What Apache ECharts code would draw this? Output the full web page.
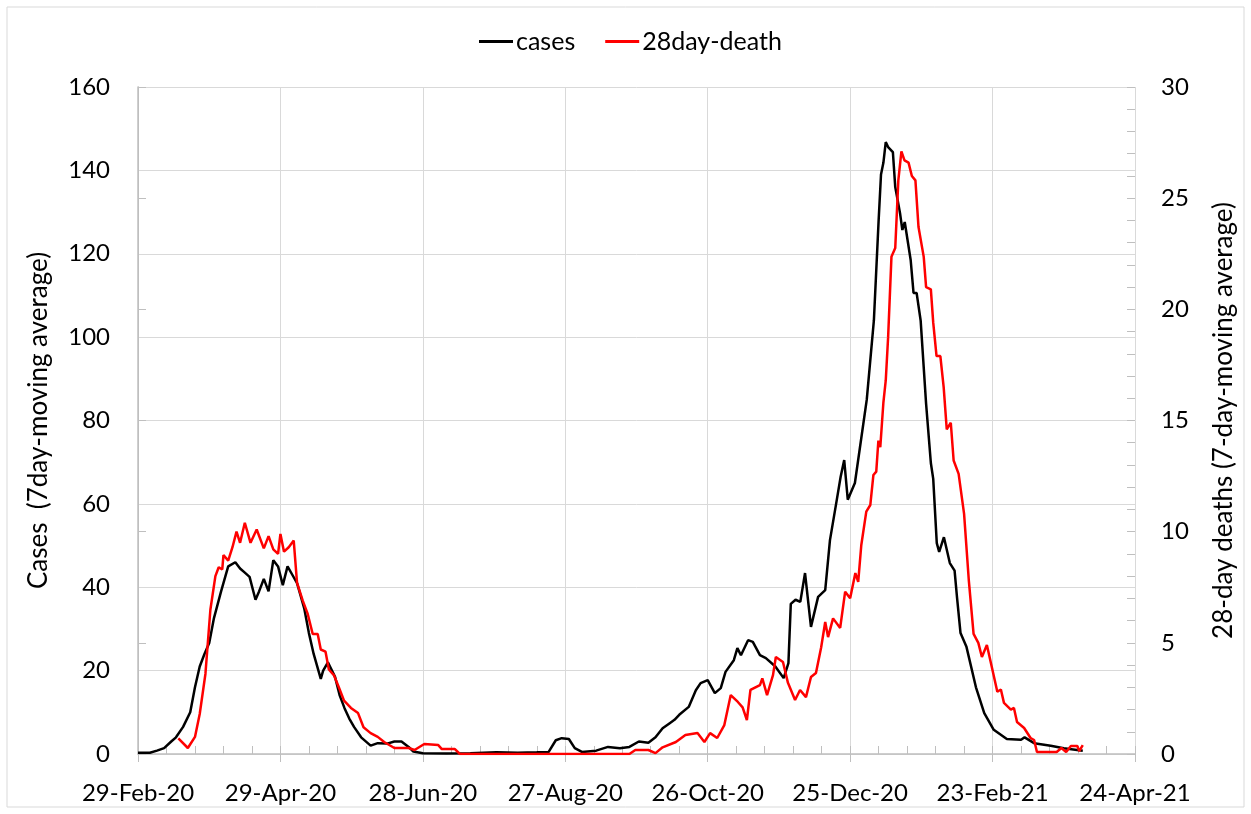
<!DOCTYPE html>
<html>
<head>
<meta charset="utf-8">
<script src="https://cdn.jsdelivr.net/npm/echarts@6/dist/echarts.min.js"></script>
<style>
  html, body { margin: 0; padding: 0; background: #fff; }
  #chart { width: 1251px; height: 814px; }
</style>
</head>
<body>
<div id="chart"></div>
<script>
// x values are days since 29-Feb-20, one label every 60 days
const xTickLabels = ["29-Feb-20", "29-Apr-20", "28-Jun-20", "27-Aug-20", "26-Oct-20", "25-Dec-20", "23-Feb-21", "24-Apr-21"];
const seriesNames = ["cases", "28day-death"];

// cases, 7day moving average  [day, value]
const casesData = [
  [0, 0.3], [5, 0.3], [8, 0.8], [11, 1.4], [14, 3], [16, 4], [19, 6.5], [22, 10], [24, 16], [26, 21],
  [28, 24], [30, 26.6], [32, 32.6], [35, 39], [38, 45], [41, 46], [43, 44.5], [45, 43.5], [47, 42.5],
  [49.5, 37], [51, 39], [53, 42], [55, 39], [57, 46.5], [59, 45], [61, 40.5], [63, 45], [65, 43],
  [67, 41], [70, 35], [72, 29], [74, 24], [77, 18], [78, 20], [80, 22], [83, 18.5], [85, 14], [87, 11],
  [89, 8.5], [91, 6.5], [94, 4], [98, 2], [101, 2.6], [105, 2.5], [108, 3], [111, 3], [114, 1.7],
  [116, 0.6], [120, 0.2], [130, 0.1], [140, 0.2], [151, 0.4], [160, 0.3], [168, 0.4], [173, 0.5],
  [176, 3.3], [178.5, 3.8], [181.5, 3.6], [184, 1.4], [187, 0.5], [193, 0.8], [198, 1.7], [203, 1.4],
  [207, 1.7], [211, 3], [215, 2.7], [218, 4], [221, 6.2], [224, 7.4], [226, 8.2], [228, 9.4],
  [232, 11.3], [235, 15.3], [237, 17], [240, 17.7], [243, 14.6], [245.5, 15.8], [247.5, 19.7],
  [251, 22.5], [252.5, 25.4], [254, 23.7], [257, 27.3], [259, 26.9], [262, 23.7], [264.5, 23],
  [268.5, 21], [272, 18.2], [274, 21.8], [275, 36], [277, 37], [279, 36.5], [281, 43.4], [283.5, 30.5],
  [286.5, 37.7], [289.5, 39.3], [291.5, 51.3], [294, 59.7], [296, 66.5], [297.5, 70.5], [299, 61],
  [302, 65], [305, 77], [307, 85], [310, 104], [312, 128], [313, 139], [314, 141.8], [315, 146.8],
  [316, 145.6], [318, 144.4], [319, 136], [321, 129.8], [322, 125.7], [323, 127.6], [325.5, 118.5],
  [326.7, 110.6], [328, 110.6], [329.7, 104], [332, 84], [334, 69.8], [335, 66], [336.5, 50.6],
  [337.5, 48.5], [339.5, 52], [342, 45.8], [344, 44], [345, 37.7], [346.5, 29], [349, 25.7], [353, 16],
  [356.5, 9.8], [360.5, 5.8], [366, 3.6], [372, 3.4], [373.5, 4], [377.5, 2.6], [384.5, 2], [390, 1.4],
  [398, 0.8]
];

// 28-day deaths, 7day moving average  [day, value]
const deathsData = [
  [17, 0.7], [21, 0.27], [24, 0.77], [26, 1.8], [28.4, 3.6], [30.5, 6.5], [32.6, 8], [34, 8.4],
  [35.5, 8.3], [36, 8.95], [38, 8.7], [39.8, 9.3], [41.5, 10], [43, 9.5], [45, 10.4], [47.4, 9.5],
  [50, 10.1], [53, 9.25], [55, 9.8], [57, 9.2], [59, 9], [60, 9.9], [61.5, 9.1], [63.5, 9.3],
  [65.6, 9.6], [67, 7.7], [69.4, 6.9], [71.5, 6.3], [73.6, 5.4], [75.7, 5.4], [77, 4.7], [79, 4.6],
  [80.4, 3.8], [82.5, 3.55], [84.6, 3], [86.8, 2.4], [89.7, 2.07], [92.7, 1.84], [95, 1.2], [98, 0.94],
  [101, 0.77], [103.7, 0.54], [108, 0.27], [114, 0.27], [116.5, 0.18], [120.6, 0.45], [126.5, 0.4],
  [128, 0.22], [133.5, 0.22], [135.6, 0], [207, 0], [209.5, 0.18], [215, 0.18], [218, 0.04],
  [221, 0.3], [226.6, 0.54], [230.6, 0.85], [235.7, 0.94], [238.6, 0.54], [241, 0.94], [244, 0.72],
  [247, 1.3], [249.7, 2.65], [252.7, 2.34], [254.7, 2.1], [256.5, 1.53], [258, 2.88], [262, 3.1],
  [263, 3.4], [265, 2.65], [267.5, 3.55], [268.7, 4.36], [271.7, 4.14], [273.8, 3.2], [276.8, 2.43],
  [278.9, 2.88], [281.4, 2.56], [283.5, 3.46], [285.6, 3.64], [287.8, 4.8], [289.5, 5.94],
  [290.7, 5.26], [292.8, 6.1], [295.8, 5.67], [297.9, 7.3], [300, 7], [302.2, 8.14], [303.4, 7.74],
  [304.7, 9.4], [306.8, 10.9], [308.5, 11.2], [309.8, 12.55], [311, 12.7], [311.9, 14.1],
  [312.7, 13.8], [314, 15.8], [315, 16.8], [316, 18.75], [317.4, 22.36], [319, 22.76], [320.3, 25.8],
  [321.6, 27.1], [322.9, 26.7], [324.6, 26.6], [326, 26], [327.5, 25.8], [328.8, 23.7], [331, 22.36],
  [332, 21], [334, 20.9], [335, 19.4], [336.4, 17.9], [338, 17.9], [339.4, 16.5], [340.7, 14.6],
  [342.4, 14.9], [343.6, 13.2], [345.7, 12.6], [348, 10.8], [350, 7.8], [352, 5.4], [354, 5],
  [355.5, 4.36], [357.6, 4.9], [359.7, 3.9], [362, 2.8], [363.5, 2.9], [364.8, 2.3], [367.7, 2],
  [369, 2.07], [370.3, 1.44], [373.3, 1.17], [376, 0.72], [377.5, 0.63], [378.7, 0.09], [387, 0.09],
  [389, 0.27], [391, 0.09], [393, 0.36], [395.7, 0.36], [396.5, 0.13], [398, 0.4]
];

const FONT = "Lato";
const gridColor = "#d9d9d9";
const axisColor = "#bfbfbf";

const chart = echarts.init(document.getElementById("chart"));

const option = {
  backgroundColor: "#fff",
  animation: false,
  textStyle: { fontFamily: FONT, color: "#000" },
  // thin frame round the whole chart
  graphic: [
    {
      type: "rect",
      silent: true,
      shape: { x: 7, y: 7, width: 1237, height: 800 },
      style: { fill: null, stroke: gridColor, lineWidth: 1 }
    }
  ],
  legend: {
    top: 24,
    left: 474,
    itemWidth: 34,
    itemHeight: 3,
    itemGap: 30,
    icon: "rect",
    textStyle: { fontFamily: FONT, fontSize: 25, color: "#000", padding: [0, 0, 0, -2] },
    data: seriesNames
  },
  grid: { left: 138, right: 116, top: 87, bottom: 60, containLabel: false },
  xAxis: [
    {
      type: "value",
      min: 0,
      max: 420,
      interval: 60,
      axisLine: { lineStyle: { color: axisColor, width: 1.5 } },
      axisTick: { show: true, inside: false, length: 8, lineStyle: { color: axisColor } },
      axisLabel: {
        margin: 27,
        fontSize: 24,
        color: "#000",
        formatter: (v) => xTickLabels[Math.round(v / 60)] || ""
      },
      splitLine: { show: true, lineStyle: { color: gridColor, width: 1 } }
    },
    {
      // minor ticks every 12 days, pointing into the plot
      type: "value",
      min: 0,
      max: 420,
      interval: 12,
      position: "bottom",
      axisLine: { show: false },
      axisTick: { show: true, inside: true, length: 8, lineStyle: { color: axisColor } },
      axisLabel: { show: false },
      splitLine: { show: false }
    }
  ],
  yAxis: [
    {
      type: "value",
      min: 0,
      max: 160,
      interval: 20,
      name: "Cases  (7day-moving average)",
      nameLocation: "middle",
      nameRotate: 90,
      nameGap: 86,
      nameTextStyle: { fontFamily: FONT, fontSize: 26, color: "#000" },
      axisLine: { show: true, lineStyle: { color: axisColor, width: 1 } },
      axisTick: { show: false },
      axisLabel: { margin: 28, fontSize: 24, color: "#000" },
      splitLine: { show: true, lineStyle: { color: gridColor, width: 1 } }
    },
    {
      type: "value",
      position: "right",
      min: 0,
      max: 30,
      interval: 5,
      name: "28-day deaths (7-day-moving average)",
      nameLocation: "middle",
      nameRotate: 90,
      nameGap: 76,
      nameTextStyle: { fontFamily: FONT, fontSize: 26, color: "#000" },
      axisLine: { show: true, lineStyle: { color: axisColor, width: 1.5 } },
      axisTick: { show: true, inside: false, length: 8, lineStyle: { color: axisColor } },
      axisLabel: { margin: 26, fontSize: 24, color: "#000" },
      splitLine: { show: false }
    },
    {
      // minor ticks on the deaths axis
      type: "value",
      position: "right",
      min: 0,
      max: 30,
      interval: 1,
      axisLine: { show: false },
      axisTick: { show: true, inside: true, length: 8, lineStyle: { color: axisColor } },
      axisLabel: { show: false },
      splitLine: { show: false }
    }
  ],
  series: [
    {
      name: seriesNames[0],
      type: "line",
      xAxisIndex: 0,
      yAxisIndex: 0,
      showSymbol: false,
      symbol: "none",
      color: "#000",
      lineStyle: { color: "#000", width: 2.5 },
      data: casesData
    },
    {
      name: seriesNames[1],
      type: "line",
      xAxisIndex: 0,
      yAxisIndex: 1,
      showSymbol: false,
      symbol: "none",
      color: "#ff0000",
      lineStyle: { color: "#ff0000", width: 2.5 },
      data: deathsData
    }
  ]
};

chart.setOption(option);
</script>
</body>
</html>
